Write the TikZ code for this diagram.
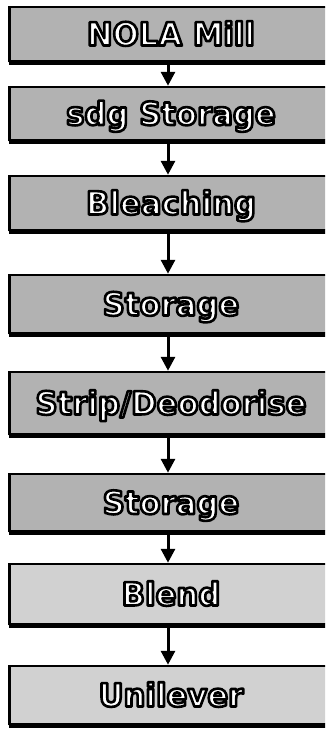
\documentclass[tikz,border=0pt]{standalone}
\usepackage{fontspec}
\usetikzlibrary{arrows.meta}
\newfontfamily\flowfont[FakeStretch=0.96]{DejaVu Sans}

\tikzset{
  stagebox/.style={draw=black, line width=2.5pt, fill=black!30,
    minimum width=322pt, inner sep=0pt},
  lightbox/.style={stagebox, fill=black!18},
  stagelabel/.style={text=white, anchor=base, inner sep=0pt,
    font=\flowfont\bfseries\fontsize{32}{36}\selectfont},
  flow/.style={line width=3pt, -{Triangle[length=14pt,width=14pt]}},
  shadowedge/.style={line width=3pt, line cap=butt}
}

% white letters with a black outline (fill-then-stroke text rendering)
\newcommand\stagetext[1]{%
  \special{pdf:literal direct 2 Tr 2.6 w 1 j 0 G}#1%
  \special{pdf:literal direct 0 Tr}}

\begin{document}
\begin{tikzpicture}[x=1pt,y=-1pt]
  \useasboundingbox (0,0) rectangle (325,729);
  \clip (0,0) rectangle (325,729);

  % process stages (boxes run off the right-hand edge)
  \node[stagebox, minimum height=54pt] (b1) at (171,34)    {};
  \node[stagebox, minimum height=53pt] (b2) at (171,113.5) {};
  \node[stagebox, minimum height=54pt] (b3) at (171,203)   {};
  \node[stagebox, minimum height=58pt] (b4) at (171,304)   {};
  \node[stagebox, minimum height=62pt] (b5) at (171,403)   {};
  \node[stagebox, minimum height=57pt] (b6) at (171,502.5) {};
  \node[lightbox, minimum height=60pt] (b7) at (171,594)   {};
  \node[lightbox, minimum height=58pt] (b8) at (171,695)   {};

  % heavier bottom and left edges
  \foreach \b in {b1,b2,b3,b4,b5,b6,b7,b8}{
    \draw[shadowedge] ([yshift=-1.5pt]\b.south west) -- ([yshift=-1.5pt]\b.south east);
    \draw[shadowedge] ([xshift=1pt]\b.south west) -- ([xshift=1pt]\b.north west);
  }

  % outlined labels
  \node[stagelabel] (t1) at (171,34+11.5)    {\stagetext{NOLA Mill}};
  \node[stagelabel] (t2) at (171,113.5+11.5) {\stagetext{sdg Storage}};
  \node[stagelabel] (t3) at (171,203+11.5)   {\stagetext{Bleaching}};
  \node[stagelabel] (t4) at (171,304+11.5)   {\stagetext{Storage}};
  \node[stagelabel] (t5) at (171,403+11.5)   {\stagetext{Strip/Deodorise}};
  \node[stagelabel] (t6) at (171,502.5+11.5) {\stagetext{Storage}};
  \node[stagelabel] (t7) at (171,594+11.5)   {\stagetext{Blend}};
  \node[stagelabel] (t8) at (171,695+11.5)   {\stagetext{Unilever}};

  % flow arrows
  \foreach \a/\b in {b1/b2,b2/b3,b3/b4,b4/b5,b5/b6,b6/b7,b7/b8}{
    \draw[flow] ([xshift=-3pt,yshift=-3pt]\a.south) -- ([xshift=-3pt]\b.north);
  }
\end{tikzpicture}
\end{document}
